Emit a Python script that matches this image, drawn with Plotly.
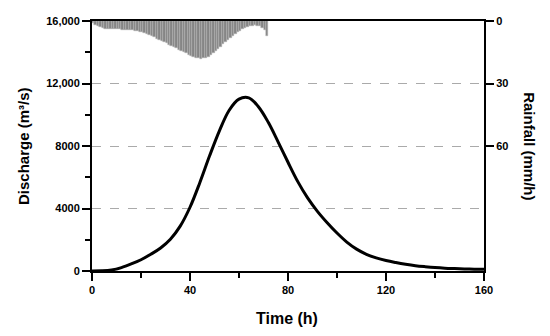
import plotly.graph_objects as go

# Discharge hydrograph (m3/s)
time_h = [0, 4, 8, 12, 16, 20, 24, 28, 32, 36, 40, 44, 48, 52, 56, 60, 64, 68, 72, 76,
          80, 84, 88, 92, 96, 100, 104, 108, 112, 116, 120, 124, 128, 132, 136, 140,
          144, 148, 152, 156, 160]
discharge = [0, 10, 65, 220, 450, 720, 1070, 1470, 2030, 2870, 4080, 5650, 7370, 8970,
             10290, 11000, 11080, 10500, 9500, 8250, 6960, 5720, 4680, 3820, 3090, 2430,
             1850, 1400, 1070, 840, 670, 540, 430, 340, 275, 220, 180, 155, 135, 120, 110]

# Hourly rainfall (mm/h), hours 0..71
rain_hour = list(range(72))
rainfall = [1.0, 2.0, 2.6, 3.1, 3.5, 3.7, 3.9, 4.0, 4.0, 4.0, 4.0, 4.0, 4.1, 4.1, 4.2, 4.3,
            4.4, 4.6, 4.9, 5.2, 5.5, 5.9, 6.4, 6.9, 7.4, 7.9, 8.4, 8.9, 9.5, 10.1, 10.7,
            11.3, 11.9, 12.5, 13.1, 13.7, 14.3, 14.9, 15.5, 16.1, 16.7, 17.2, 17.6, 17.9,
            18.0, 17.9, 17.6, 17.1, 16.4, 15.5, 14.5, 13.4, 12.3, 11.2, 10.1, 9.0, 8.0,
            7.0, 6.1, 5.3, 4.6, 4.0, 3.4, 2.9, 2.5, 2.2, 2.1, 2.2, 2.6, 3.3, 4.5, 7.3]

x_ticks = [0, 40, 80, 120, 160]
q_ticks = [0, 4000, 8000, 12000, 16000]
q_tick_text = ["0", "4000", "8000", "12,000", "16,000"]
r_ticks = [0, 30, 60]

FONT = "Liberation Sans, Arial, sans-serif"

fig = go.Figure()
fig.add_trace(go.Bar(
    x=[h + 0.5 for h in rain_hour], y=rainfall, width=1.0,
    marker=dict(color="#858585", line=dict(width=0.5, color="#b4b4b4")),
    yaxis="y2", showlegend=False, hoverinfo="skip"))
fig.add_trace(go.Scatter(
    x=time_h, y=discharge, mode="lines",
    line=dict(color="black", width=3, shape="spline", smoothing=1.0),
    showlegend=False))

axis_common = dict(showline=True, linecolor="black", linewidth=2,
                   ticks="outside", ticklen=8, tickwidth=2, tickcolor="black",
                   tickfont=dict(family=FONT, size=11, color="black", weight="bold"))

fig.update_layout(
    width=550, height=336,
    margin=dict(l=84, r=74, t=13, b=73, autoexpand=False),
    plot_bgcolor="white", paper_bgcolor="white",
    bargap=0,
    xaxis=dict(range=[0, 160], tickvals=x_ticks, mirror=True, showgrid=False,
               zeroline=False,
               minor=dict(ticks="outside", tickvals=[20, 60, 100, 140], ticklen=5,
                          tickwidth=2, tickcolor="black", showgrid=False),
               **axis_common),
    yaxis=dict(range=[0, 16000], tickvals=q_ticks, ticktext=q_tick_text,
               showgrid=True, gridcolor="#aaaaaa", gridwidth=1, griddash="dash",
               zeroline=False,
               minor=dict(ticks="outside", tickvals=[2000, 6000, 10000, 14000], ticklen=5,
                          tickwidth=2, tickcolor="black", showgrid=False),
               **axis_common),
    yaxis2=dict(range=[120, 0], tickvals=r_ticks, overlaying="y", side="right",
                showgrid=False, zeroline=False, **axis_common),
    annotations=[
        dict(text="<b>Time (h)</b>", x=0.497, y=-0.188, xref="paper", yref="paper",
             showarrow=False, xanchor="center", yanchor="middle",
             font=dict(family=FONT, size=16, color="black")),
        dict(text="<b>Discharge (m³/s)</b>", x=-0.176, y=0.5, xref="paper", yref="paper",
             showarrow=False, xanchor="center", yanchor="middle", textangle=-90,
             font=dict(family=FONT, size=15, color="black")),
        dict(text="<b>Rainfall (mm/h)</b>", x=1.117, y=0.5, xref="paper", yref="paper",
             showarrow=False, xanchor="center", yanchor="middle", textangle=90,
             font=dict(family=FONT, size=15, color="black")),
    ],
)

fig.write_html("out.html")
